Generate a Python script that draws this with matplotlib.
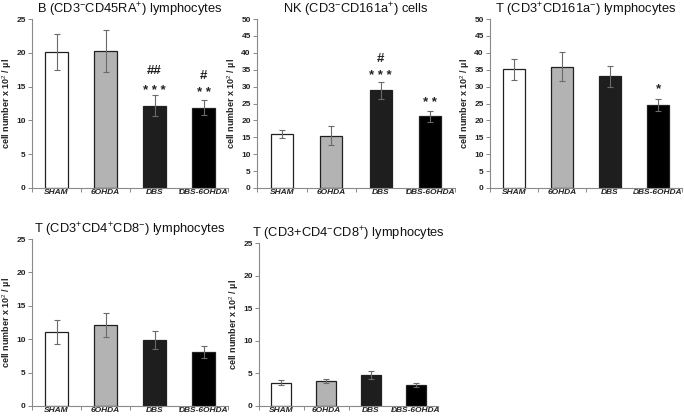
import numpy as np
import matplotlib
matplotlib.use('Agg')
import matplotlib.pyplot as plt

plt.rcParams['font.family'] = ['Liberation Sans', 'DejaVu Sans']
plt.rcParams['mathtext.fontset'] = 'custom'
plt.rcParams['mathtext.rm'] = 'Liberation Sans'
plt.rcParams['mathtext.it'] = 'Liberation Sans:italic'
plt.rcParams['mathtext.bf'] = 'Liberation Sans:bold'

# data
groups = ['SHAM', '6OHDA', 'DBS', 'DBS-6OHDA']
colors = ['white', '#b3b3b3', '#1e1e1e', '#000000']

titles = ['B (CD3$^{-}$CD45RA$^{+}$) lymphocytes',
          'NK (CD3$^{-}$CD161a$^{+}$) cells',
          'T (CD3$^{+}$CD161a$^{-}$) lymphocytes',
          'T (CD3$^{+}$CD4$^{+}$CD8$^{-}$) lymphocytes',
          'T (CD3+CD4$^{-}$CD8$^{+}$) lymphocytes']

b_mean = [20.1, 20.2, 12.2, 11.9]
b_err = [2.7, 3.1, 1.5, 1.1]
nk_mean = [16.0, 15.5, 28.9, 21.2]
nk_err = [1.1, 2.9, 2.5, 1.7]
t_mean = [35.1, 35.9, 33.1, 24.6]
t_err = [3.2, 4.2, 3.1, 1.7]
cd4_mean = [11.1, 12.1, 9.9, 8.1]
cd4_err = [1.8, 1.8, 1.3, 0.9]
cd8_mean = [3.6, 3.9, 4.7, 3.2]
cd8_err = [0.4, 0.3, 0.6, 0.3]

ymax = [25, 50, 50, 25, 25]
ystep = [5, 5, 5, 5, 5]

# significance marks: (panel, bar index, text, y)
marks = [(0, 2, '* * *', 14.4), (0, 2, '##', 17.3),
         (0, 3, '* *', 14.1), (0, 3, '#', 16.6),
         (1, 2, '* * *', 33.2), (1, 2, '#', 38.2),
         (1, 3, '* *', 25.0),
         (2, 3, '*', 29.2)]

means = [b_mean, nk_mean, t_mean, cd4_mean, cd8_mean]
errs = [b_err, nk_err, t_err, cd4_err, cd8_err]

W, H = 684, 418
# axes boxes in pixels: left, right, top, bottom
boxes = [(32, 228, 19, 188), (257, 455, 19, 188), (490, 682, 19, 188),
         (32, 228, 239, 406), (259, 438, 243, 406)]

fig = plt.figure(figsize=(W / 100, H / 100), dpi=100)
axes = []
for (l, r, t, b) in boxes:
    axes.append(fig.add_axes([l / W, 1 - b / H, (r - l) / W, (b - t) / H]))

axis_col = '#8a8a8a'
text_col = '#222222'
x = np.arange(len(groups))

for i, ax in enumerate(axes):
    ax.bar(x, means[i], width=0.45, color=colors, edgecolor='#202020', linewidth=0.9,
           yerr=errs[i], capsize=2.5,
           error_kw=dict(ecolor='#6a6a6a', elinewidth=0.8, capthick=0.8))
    ax.set_xlim(-0.5, len(groups) - 0.5)
    ax.set_ylim(0, ymax[i])
    ticks = np.arange(0, ymax[i] + 0.1, ystep[i])
    ax.set_yticks(ticks)
    ax.set_yticklabels([str(int(v)) for v in ticks],
                       fontsize=6, fontweight='bold', color=text_col)
    ax.set_xticks(x)
    ax.set_xticklabels(groups, fontsize=6, fontstyle='italic', fontweight='bold',
                       color=text_col)
    ax.tick_params(axis='x', length=0, pad=1)
    ax.set_xticks(np.arange(-0.5, len(groups)), minor=True)
    ax.tick_params(axis='x', which='minor', length=3, color=axis_col, width=0.7)
    ax.tick_params(axis='y', length=3, color=axis_col, width=0.7, pad=1.5)
    for s in ['top', 'right']:
        ax.spines[s].set_visible(False)
    for s in ['left', 'bottom']:
        ax.spines[s].set_color(axis_col)
        ax.spines[s].set_linewidth(0.8)
    ax.set_ylabel('cell number x 10$^{2}$ / µl', fontsize=6.5, fontweight='bold',
                  color=text_col, labelpad=1.5)
    ax.set_title(titles[i], fontsize=9.3, color='#111111', pad=3)

for p, k, txt, y in marks:
    axes[p].text(k, y, txt, ha='center', va='center', fontsize=9.5, fontweight='bold',
                 color=text_col)

fig.savefig('out.png', dpi=100)
